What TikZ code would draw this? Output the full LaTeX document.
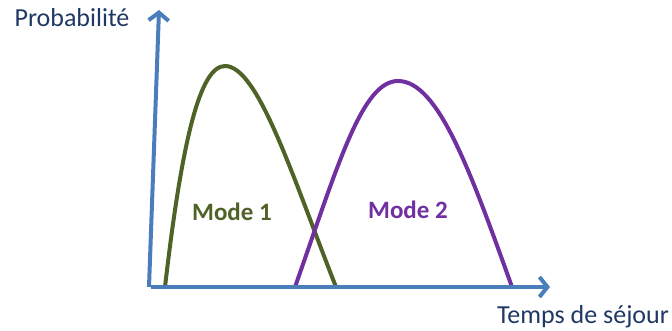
\documentclass[tikz,border=0pt]{standalone}
\usepackage{fontspec}
\setmainfont{Carlito}
\usetikzlibrary{arrows.meta}
\definecolor{axisblue}{HTML}{4A7EBB}
\definecolor{labelblue}{HTML}{1F3864}
\definecolor{modegreen}{HTML}{4F6228}
\definecolor{modepurple}{HTML}{7030A0}
\tikzset{
  axis/.style={draw=axisblue,line width=4pt,-{Straight Barb[length=8pt,width=20pt,line width=4pt]}},
  curve/.style={line width=4pt},
  lbl/.style={font=\fontsize{26}{30}\selectfont,inner sep=0pt},
  modelbl/.style={font=\fontsize{25}{30}\selectfont\bfseries,inner sep=0pt}
}
\begin{document}
\begin{tikzpicture}[x=1pt,y=-1pt]
  \useasboundingbox (0,0) rectangle (672,331);
  \coordinate (O) at (151,287);
  \coordinate (Ytop) at (159,10);
  \coordinate (Xend) at (550,287);

  % modes
  \draw [curve,modegreen] (165,287) .. controls (182,140) and (200,66) .. (225,66)
        .. controls (258,66) and (292,175) .. (336,287);
  \draw [curve,modepurple] (295,287) .. controls (338,165) and (362,81) .. (398,81)
        .. controls (438,81) and (470,170) .. (512,287);

  % axes
  \draw [axis] ([xshift=-2pt]O) -- (Ytop);
  \draw [axis] (O) -- (Xend);

  \node [lbl,text=labelblue] (proba) at (72,18) {Probabilité};
  \node [lbl,text=labelblue] (temps) at (583,317) {Temps de séjour};
  \node [modelbl,text=modegreen] (mode1) at (232,212) {Mode 1};
  \node [modelbl,text=modepurple] (mode2) at (408,210) {Mode 2};
\end{tikzpicture}
\end{document}
